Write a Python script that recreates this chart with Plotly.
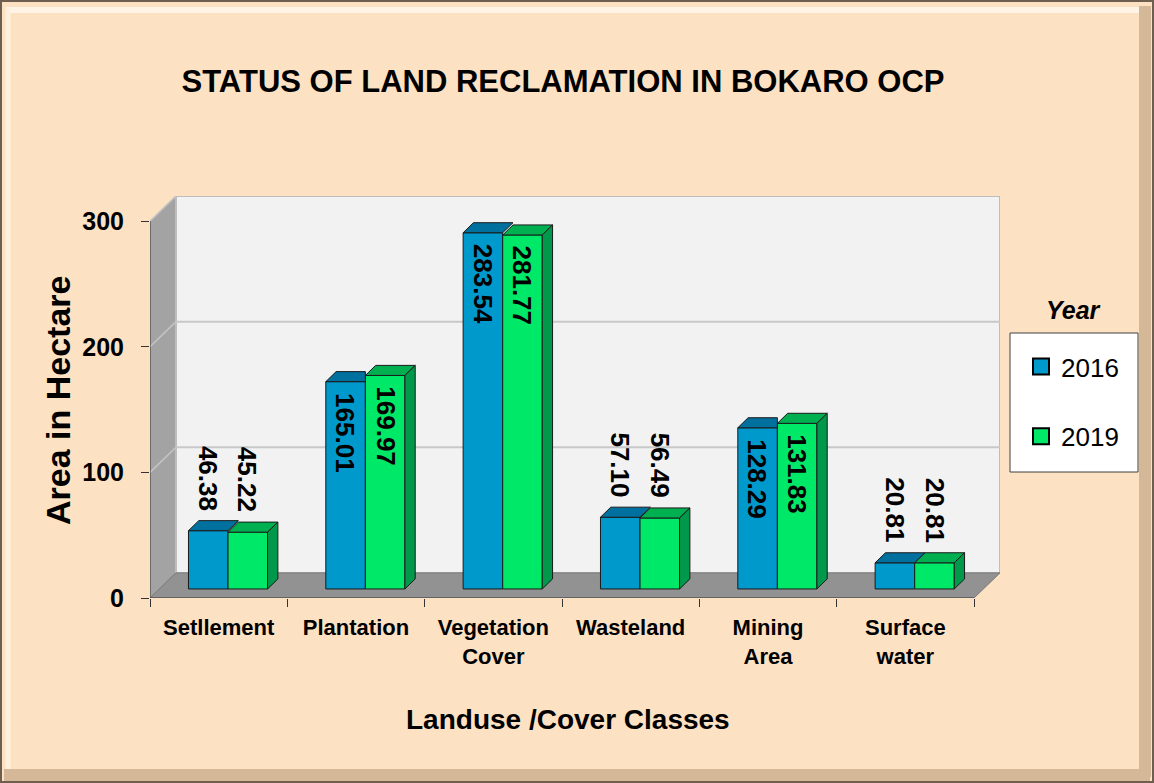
import plotly.graph_objects as go

# ---------------- data ----------------
categories = ["Setllement", "Plantation", "Vegetation<br>Cover", "Wasteland", "Mining<br>Area", "Surface<br>water"]
years = ["2016", "2019"]
values_2016 = [46.38, 165.01, 283.54, 57.10, 128.29, 20.81]
values_2019 = [45.22, 169.97, 281.77, 56.49, 131.83, 20.81]
y_ticks = [0, 100, 200, 300]

# ---------------- geometry / style ----------------
W, H = 1154, 783
ML, MR, MT, MB = 150, 154, 196, 185
PW, PH = W - ML - MR, H - MT - MB
NCAT = len(categories)
X_MAX = NCAT * PW / 824.0          # front axis spans 824 px
Y_MAX = 320.0
DX, DY = X_MAX - NCAT, Y_MAX - 300  # depth offset of back wall
T = 0.36                            # depth at which bars stand
BW = 0.288                          # bar width (category units)
BDX, BDY = 0.075, 8.0               # bar thickness offset

FONT = "Liberation Sans, Arial, sans-serif"
BLUE, BLUE_TOP = "#0099CC", "#00719E"
GREEN, GREEN_TOP, GREEN_SIDE = "#00E868", "#00B050", "#00984A"
EDGE = "#1a1a1a"


def px2x(px):
    return (px - ML) / PW


def py2y(py):
    return (H - MB - py) / PH


base = T * DY
shift = T * DX
x16 = [i + 0.5 + shift - BW / 2 for i in range(NCAT)]
x19 = [i + 0.5 + shift + BW / 2 for i in range(NCAT)]

fig = go.Figure()

fig.add_trace(go.Bar(x=x16, y=values_2016, base=base, width=BW, name=years[0],
                     marker=dict(color=BLUE, line=dict(color=EDGE, width=1)),
                     showlegend=False, hoverinfo="y"))
fig.add_trace(go.Bar(x=x19, y=values_2019, base=base, width=BW, name=years[1],
                     marker=dict(color=GREEN, line=dict(color=EDGE, width=1)),
                     showlegend=False, hoverinfo="y"))


def poly_trace(xs, ys, color):
    return go.Scatter(x=xs, y=ys, mode="lines", fill="toself", fillcolor=color,
                      line=dict(color=EDGE, width=1), showlegend=False, hoverinfo="skip")


# top faces of 2016 bars (clipped where the taller 2019 bar hides them)
tx, ty = [], []
for xc, v16, v19 in zip(x16, values_2016, values_2019):
    x0, x1 = xc - BW / 2, xc + BW / 2
    top = base + v16
    if v19 > v16:
        pts = [(x0, top), (x1, top), (x1, top + BDY), (x0 + BDX, top + BDY), (x0, top)]
    else:
        pts = [(x0, top), (x1, top), (x1 + BDX, top + BDY), (x0 + BDX, top + BDY), (x0, top)]
    tx += [p[0] for p in pts] + [None]
    ty += [p[1] for p in pts] + [None]
fig.add_trace(poly_trace(tx, ty, BLUE_TOP))

# top and side faces of 2019 bars
tx, ty, sx, sy = [], [], [], []
for xc, v in zip(x19, values_2019):
    x0, x1 = xc - BW / 2, xc + BW / 2
    top = base + v
    pts = [(x0, top), (x1, top), (x1 + BDX, top + BDY), (x0 + BDX, top + BDY), (x0, top)]
    tx += [p[0] for p in pts] + [None]
    ty += [p[1] for p in pts] + [None]
    side = [(x1, base), (x1, top), (x1 + BDX, top + BDY), (x1 + BDX, base + BDY), (x1, base)]
    sx += [p[0] for p in side] + [None]
    sy += [p[1] for p in side] + [None]
fig.add_trace(poly_trace(tx, ty, GREEN_TOP))
fig.add_trace(poly_trace(sx, sy, GREEN_SIDE))

# legend entries (square swatches like the reference)
for name, col, grp in ((years[0], BLUE, "a"), (years[1], GREEN, "b")):
    fig.add_trace(go.Scatter(x=[None], y=[None], mode="markers", name=name, legendgroup=grp,
                             marker=dict(symbol="square", size=16, color=col,
                                         line=dict(color="black", width=2))))

# ---------------- value labels ----------------
annotations = []
for xs, vals in ((x16, values_2016), (x19, values_2019)):
    for xc, v in zip(xs, vals):
        inside = v > 100
        annotations.append(dict(
            x=xc, y=base + v + (0 if inside else BDY), xref="x", yref="y",
            text=f"{v:.2f}", showarrow=False, textangle=90,
            yanchor="top" if inside else "bottom", xanchor="center",
            yshift=-9 if inside else 8,
            font=dict(family=FONT, size=26, color="black", weight="bold")))

# axis titles / legend title
annotations.append(dict(x=px2x(568), y=py2y(719), xref="paper", yref="paper",
                        text="Landuse /Cover Classes", showarrow=False,
                        font=dict(family=FONT, size=28, color="black", weight="bold"),
                        xanchor="center", yanchor="middle"))
annotations.append(dict(x=px2x(58), y=py2y(401), xref="paper", yref="paper",
                        text="Area in Hectare", showarrow=False, textangle=-90,
                        font=dict(family=FONT, size=34, color="black", weight="bold"),
                        xanchor="center", yanchor="middle"))
annotations.append(dict(x=px2x(1073), y=py2y(310), xref="paper", yref="paper",
                        text="<b><i>Year</i></b>", showarrow=False,
                        font=dict(family=FONT, size=25, color="black"),
                        xanchor="center", yanchor="middle"))

# ---------------- 3D walls ----------------
shapes = []
shapes.append(dict(type="path", xref="x", yref="y", layer="below",
                   path=f"M 0,0 L 0,300 L {DX},{300 + DY} L {DX},{DY} Z",
                   fillcolor="#A3A3A3", line=dict(color="#8A8A8A", width=1)))
shapes.append(dict(type="rect", xref="x", yref="y", layer="below",
                   x0=DX, x1=NCAT + DX, y0=DY, y1=300 + DY,
                   fillcolor="#F2F2F2", line=dict(color="#BDBDBD", width=2)))
shapes.append(dict(type="path", xref="x", yref="y", layer="below",
                   path=f"M 0,0 L {NCAT},0 L {NCAT + DX},{DY} L {DX},{DY} Z",
                   fillcolor="#929292", line=dict(color="#7A7A7A", width=1)))
for gv in y_ticks[1:3]:
    shapes.append(dict(type="line", xref="x", yref="y", layer="below",
                       x0=DX, x1=NCAT + DX, y0=gv + DY, y1=gv + DY,
                       line=dict(color="#C8C8C8", width=2)))
    shapes.append(dict(type="line", xref="x", yref="y", layer="below",
                       x0=0, x1=DX, y0=gv, y1=gv + DY,
                       line=dict(color="#C4C4C4", width=1.5)))
shapes.append(dict(type="line", xref="x", yref="y", layer="below",
                   x0=0, x1=DX, y0=300, y1=300 + DY, line=dict(color="#C4C4C4", width=1.5)))
shapes.append(dict(type="line", xref="x", yref="y", x0=0, x1=0, y0=0, y1=300,
                   line=dict(color="#404040", width=1)))
shapes.append(dict(type="line", xref="x", yref="y", x0=0, x1=NCAT, y0=0, y1=0,
                   line=dict(color="#404040", width=1)))

# ---------------- outer bevelled frame ----------------
def frame_line(x0, y0, x1, y1, color, width):
    return dict(type="line", xref="paper", yref="paper", layer="below",
                x0=px2x(x0), y0=py2y(y0), x1=px2x(x1), y1=py2y(y1),
                line=dict(color=color, width=width))


shapes.append(frame_line(6, 10, 1146, 10, "#FFF4E6", 6))
shapes.append(frame_line(8, 8, 8, 774, "#FFF0DE", 5))
shapes.append(frame_line(1145, 6, 1145, 777, "#D5B898", 12))
shapes.append(frame_line(4, 775, 1150, 775, "#D5B898", 12))
shapes.append(dict(type="rect", xref="paper", yref="paper", layer="below",
                   x0=px2x(1), x1=px2x(W - 1), y0=py2y(1), y1=py2y(H - 1),
                   line=dict(color="#6E5E50", width=2)))

# legend box (drawn as a shape so its padding matches the reference)
shapes.append(dict(type="rect", xref="paper", yref="paper", layer="below",
                   x0=px2x(1010), x1=px2x(1138), y0=py2y(333), y1=py2y(472),
                   fillcolor="white", line=dict(color="#404040", width=1)))

fig.update_layout(
    width=W, height=H,
    margin=dict(l=ML, r=MR, t=MT, b=MB, autoexpand=False),
    paper_bgcolor="#FDE1C3", plot_bgcolor="rgba(0,0,0,0)",
    barmode="overlay",
    font=dict(family=FONT, color="black"),
    title=dict(text="STATUS OF LAND RECLAMATION IN BOKARO OCP",
               x=563 / W, y=1 - 81 / H, xanchor="center", yanchor="middle",
               font=dict(family=FONT, size=31, color="black", weight="bold")),
    xaxis=dict(range=[0, X_MAX], showgrid=False, zeroline=False, showline=False,
               tickmode="array", tickvals=[i + 0.5 for i in range(NCAT)], ticktext=categories,
               ticks="", ticklabelstandoff=14,
               tickfont=dict(family=FONT, size=22, color="black", weight="bold"),
               minor=dict(ticks="outside", ticklen=8, tickcolor="#333", tick0=0, dtick=1,
                          showgrid=False)),
    yaxis=dict(range=[0, Y_MAX], showgrid=False, zeroline=False, showline=False,
               tickmode="array", tickvals=y_ticks, ticks="outside", ticklen=8,
               tickcolor="#333", ticklabelstandoff=12,
               tickfont=dict(family=FONT, size=25, color="black", weight="bold")),
    legend=dict(x=px2x(1021), y=py2y(343), xanchor="left", yanchor="top",
                bgcolor="rgba(0,0,0,0)", borderwidth=0,
                font=dict(family=FONT, size=26, color="black"),
                traceorder="grouped", tracegroupgap=33),
    shapes=shapes,
    annotations=annotations,
)

fig.write_html("out.html", config={"displayModeBar": False},
               post_script="document.body.style.margin='0';")
